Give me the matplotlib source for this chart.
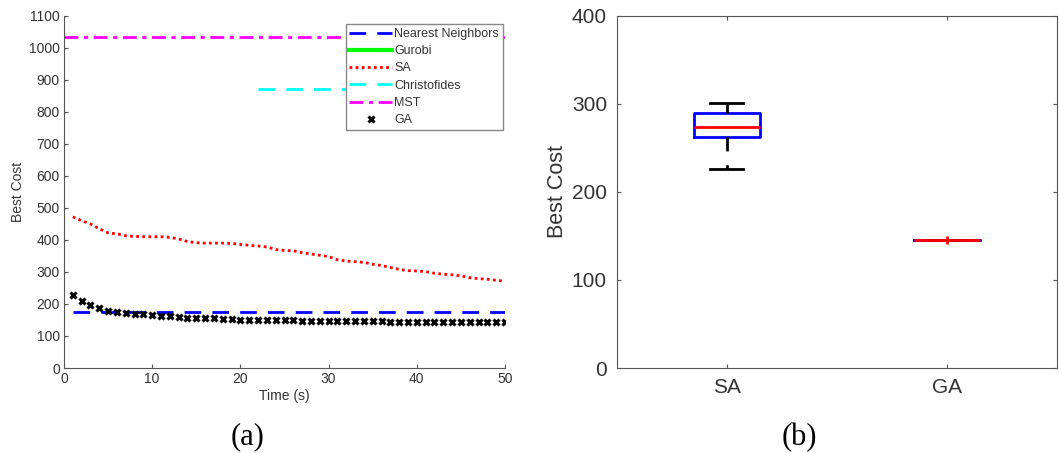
import numpy as np
import matplotlib.pyplot as plt

plt.rcParams['font.family'] = ['Liberation Sans', 'DejaVu Sans']

# (a) convergence over time
time_s = np.arange(1, 51)
sa_cost = [472, 460, 450, 435, 422, 419, 413, 411, 410, 410,
           410, 408, 403, 395, 391, 390, 390, 390, 389, 386,
           383, 381, 378, 370, 367, 366, 360, 356, 352, 348,
           338, 334, 332, 330, 324, 320, 314, 308, 304, 303,
           301, 296, 293, 291, 288, 282, 279, 277, 274, 271]
ga_cost = [228, 209, 197, 188, 179, 176, 171, 170, 168, 166,
           163, 161, 159, 157, 157, 155, 155, 154, 153, 151,
           151, 151, 150, 150, 149, 149, 148, 148, 148, 148,
           146, 146, 146, 146, 146, 146, 145, 145, 145, 145,
           145, 145, 145, 145, 145, 145, 145, 145, 145, 145]
nn_x, nn_cost = [1, 50], [175, 175]
christo_x, christo_cost = [22, 50], [872, 872]
mst_x, mst_cost = [0, 50], [1032, 1032]
gurobi_x, gurobi_cost = [], []

# (b) boxplot stats of final best cost
box_labels = ["SA", "GA"]
box_whislo = [226, 145]
box_q1 = [262, 145]
box_med = [274, 145]
box_q3 = [290, 145]
box_whishi = [301, 145]
box_fliers = [[], [145]]

TXT = '#333333'
AX = '#555555'

fig = plt.figure(figsize=(10.59, 4.53), dpi=100)
ax1 = fig.add_axes([0.0604, 0.1876, 0.4165, 0.7777])
ax2 = fig.add_axes([0.5823, 0.1876, 0.4158, 0.7777])

# ---- panel (a)
ax1.plot(nn_x, nn_cost, color='#0000ff', lw=2, ls=(0, (6, 4)), label='Nearest Neighbors')
ax1.plot(gurobi_x, gurobi_cost, color='#00ff00', lw=3, label='Gurobi')
ax1.plot(time_s, sa_cost, color='#ff0000', lw=2, ls=(0, (1, 1.2)), label='SA')
ax1.plot(christo_x, christo_cost, color='#00ffff', lw=2, ls=(0, (6, 4)), label='Christofides')
ax1.plot(mst_x, mst_cost, color='#ff00ff', lw=2, ls=(0, (5, 2, 1.5, 2)), label='MST')
ax1.plot(time_s, ga_cost, ls='none', marker='x', ms=5, mew=2.2, color='black', label='GA')

ax1.set_xlim(0, 50)
ax1.set_ylim(0, 1100)
ax1.set_xticks(np.arange(0, 51, 10))
ax1.set_yticks(np.arange(0, 1101, 100))
ax1.spines['top'].set_visible(False)
ax1.spines['right'].set_visible(False)
for s in ('left', 'bottom'):
    ax1.spines[s].set_color(AX)
ax1.tick_params(direction='in', length=3, labelsize=10, colors=AX, labelcolor=TXT, pad=3)
ax1.set_xlabel('Time (s)', fontsize=10, color=TXT, labelpad=2)
ax1.set_ylabel('Best Cost', fontsize=10, color=TXT, labelpad=3)
leg = ax1.legend(loc='upper right', bbox_to_anchor=(0.995, 0.976), fontsize=9, handlelength=3.4,
                 handletextpad=0.2, labelspacing=0.42, borderpad=0.3, fancybox=False,
                 framealpha=1, borderaxespad=0)
leg.get_frame().set_edgecolor('#888888')
leg.get_frame().set_linewidth(1)
for t in leg.get_texts():
    t.set_color(TXT)

# ---- panel (b)
stats = []
for i in range(len(box_labels)):
    stats.append(dict(label=box_labels[i], whislo=box_whislo[i], q1=box_q1[i], med=box_med[i],
                      q3=box_q3[i], whishi=box_whishi[i], fliers=box_fliers[i]))
ax2.bxp(stats, positions=[1, 2], widths=0.3, showcaps=True,
        boxprops=dict(color='#0000ff', lw=2),
        medianprops=dict(color='#ff0000', lw=2),
        whiskerprops=dict(color='black', lw=2, ls=(0, (5, 5))),
        capprops=dict(color='black', lw=2),
        capwidths=0.15,
        flierprops=dict(marker='+', markeredgecolor='#ff0000', ms=6, mew=2))
ax2.set_xlim(0.5, 2.5)
ax2.set_ylim(0, 400)
ax2.set_yticks(np.arange(0, 401, 100))
for s in ax2.spines.values():
    s.set_color(AX)
ax2.tick_params(direction='in', length=3, labelsize=15, colors=AX, labelcolor=TXT,
                top=True, right=True, pad=7)
ax2.set_ylabel('Best Cost', fontsize=15.5, color=TXT, labelpad=3)

# captions
fig.text(0.234, 0.035, '(a)', fontsize=22, family='Liberation Serif', ha='center', va='center', color='black')
fig.text(0.755, 0.035, '(b)', fontsize=22, family='Liberation Serif', ha='center', va='center', color='black')

fig.savefig('out.png', dpi=100)
